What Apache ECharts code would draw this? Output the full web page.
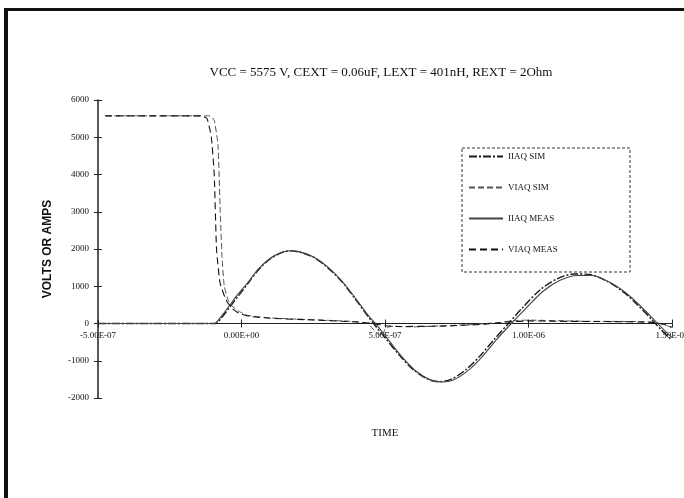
<!DOCTYPE html>
<html>
<head>
<meta charset="utf-8">
<script src="https://cdn.jsdelivr.net/npm/echarts@6/dist/echarts.min.js"></script>
<style>html,body{margin:0;padding:0;background:#fff}#c{width:684px;height:498px}</style>
</head>
<body>
<div id="c"></div>
<script>
// time in microseconds
const xTickLabels = ["-5.00E-07", "0.00E+00", "5.00E-07", "1.00E-06", "1.50E-06"];
const yTicks = [-2000, -1000, 0, 1000, 2000, 3000, 4000, 5000, 6000];

const iiaqSimT = [-0.5,-0.09,-0.07,-0.04,-0.01,0.02,0.06,0.1,0.14,0.17,0.2,0.25,0.3,0.35,0.4,0.44,0.46,0.5,0.55,0.6,0.65,0.69,0.73,0.78,0.83,0.88,0.93,0.98,1.04,1.1,1.16,1.21,1.27,1.33,1.38,1.43,1.46,1.5];
const iiaqSimV = [0,0,150,450,750,1050,1450,1730,1900,1950,1920,1780,1500,1120,620,200,0,-380,-850,-1250,-1500,-1560,-1500,-1250,-880,-430,0,430,900,1200,1330,1320,1150,850,500,100,-150,-450];

const viaqSimT = [-0.475,-0.11,-0.095,-0.082,-0.074,-0.068,-0.06,-0.045,-0.03,-0.01,0.02,0.1,0.2,0.3,0.4,0.44,0.47,0.49,0.5,0.52,0.6,0.7,0.8,0.9,0.95,1.0,1.2,1.4,1.45,1.49,1.5];
const viaqSimV = [5575,5575,5450,4800,3000,1800,1000,600,450,330,220,150,115,85,50,0,-250,-350,-150,-80,-90,-60,-30,30,80,90,60,50,20,-80,-120];

const iiaqMeasT = [-0.5,-0.095,-0.075,-0.045,-0.015,0.02,0.06,0.1,0.14,0.17,0.2,0.25,0.3,0.35,0.4,0.44,0.47,0.51,0.56,0.61,0.66,0.7,0.74,0.79,0.84,0.89,0.94,0.99,1.05,1.11,1.17,1.22,1.28,1.34,1.39,1.44,1.47,1.5];
const iiaqMeasV = [0,0,150,450,760,1080,1470,1750,1910,1955,1930,1790,1520,1140,650,230,-30,-420,-900,-1290,-1520,-1570,-1510,-1260,-880,-420,0,400,860,1160,1290,1290,1120,820,470,80,-160,-380];

const viaqMeasT = [-0.475,-0.14,-0.12,-0.105,-0.095,-0.087,-0.075,-0.055,-0.035,-0.01,0.03,0.1,0.2,0.3,0.4,0.46,0.5,0.55,0.7,0.85,0.93,1.0,1.1,1.3,1.43,1.47,1.5];
const viaqMeasV = [5575,5575,5500,5000,4000,2000,1100,650,420,280,190,140,110,80,40,0,-60,-80,-70,-20,40,70,60,50,30,-20,-100];

const seriesNames = ["IIAQ SIM", "VIAQ SIM", "IIAQ MEAS", "VIAQ MEAS"];
const titleText = "VCC = 5575 V, CEXT = 0.06uF, LEXT = 401nH, REXT = 2Ohm";

function zip(t, v) { return t.map((x, i) => [x, v[i]]); }

const serif = "'Liberation Serif', 'Times New Roman', serif";
const chart = echarts.init(document.getElementById('c'), null, {renderer: 'canvas'});

const gridTop = 100, gridBottom = 100, chartH = 498;
const yMin = -2000, yMax = 6000;
// place the x axis at the y = 0 level of the grid
const zeroOffset = -(chartH - gridTop - gridBottom) * (0 - yMin) / (yMax - yMin);

const xBase = {
  type: 'value', min: -0.5, max: 1.5, interval: 0.5,
  position: 'bottom', offset: zeroOffset,
  splitLine: {show: false}
};
const yBase = {
  type: 'value', min: yMin, max: yMax, interval: 1000,
  splitLine: {show: false}
};

const styles = [
  {color: '#1a1a1a', width: 1.4, type: [8, 2, 2, 2]},
  {color: '#555', width: 1, type: [6, 3]},
  {color: '#444', width: 1.1, type: 'solid'},
  {color: '#111', width: 1.1, type: [7, 4]}
];

chart.setOption({
  animation: false,
  backgroundColor: '#fff',
  title: {
    text: titleText, left: 376, textAlign: 'center', top: 61,
    textStyle: {fontFamily: serif, fontSize: 13, fontWeight: 'normal', color: '#111'}
  },
  grid: {left: 98, right: 12, top: gridTop, bottom: gridBottom, containLabel: false, outerBoundsMode: 'none'},
  legend: {
    orient: 'vertical', left: 468, top: 152, itemWidth: 34, itemHeight: 10, itemGap: 22,
    data: seriesNames,
    itemStyle: {opacity: 0},
    textStyle: {fontFamily: serif, fontSize: 9, color: '#111'},
    padding: 0
  },
  xAxis: [
    Object.assign({}, xBase, {
      name: 'TIME', nameLocation: 'middle', nameGap: 104,
      nameTextStyle: {fontFamily: serif, fontSize: 11, color: '#111'},
      axisLine: {show: true, onZero: false, lineStyle: {color: '#222', width: 1}},
      axisTick: {inside: false, length: 4, lineStyle: {color: '#222'}},
      axisLabel: {
        fontFamily: serif, fontSize: 9, color: '#111', margin: 8,
        formatter: (v) => { const i = Math.round((v + 0.5) / 0.5); return xTickLabels[i] || ''; }
      }
    }),
    Object.assign({}, xBase, {
      axisLine: {show: false, onZero: false},
      axisTick: {inside: true, length: 4, lineStyle: {color: '#222'}},
      axisLabel: {show: false}
    })
  ],
  yAxis: [
    Object.assign({}, yBase, {
      name: 'VOLTS OR AMPS', nameLocation: 'middle', nameGap: 44, nameRotate: 90,
      nameTextStyle: {fontFamily: "'Liberation Sans', Arial, sans-serif", fontSize: 12, fontWeight: 'bold', color: '#111'},
      axisLine: {show: true, onZero: false, lineStyle: {color: '#222', width: 1.5}},
      axisTick: {show: true, inside: false, length: 4, lineStyle: {color: '#222'}},
      axisLabel: {
        fontFamily: serif, fontSize: 9, color: '#111', margin: 9,
        formatter: (v) => { const i = yTicks.indexOf(v); return i >= 0 ? String(yTicks[i]) : ''; }
      }
    }),
    Object.assign({}, yBase, {
      position: 'left',
      axisLine: {show: false, onZero: false},
      axisTick: {show: true, inside: true, length: 4, lineStyle: {color: '#222'}},
      axisLabel: {show: false}
    })
  ],
  series: [
    {name: seriesNames[0], type: 'line', data: zip(iiaqSimT, iiaqSimV), symbol: 'none', smooth: 0.3,
     itemStyle: {color: styles[0].color}, lineStyle: styles[0]},
    {name: seriesNames[1], type: 'line', data: zip(viaqSimT, viaqSimV), symbol: 'none', smooth: 0.15,
     itemStyle: {color: styles[1].color}, lineStyle: styles[1]},
    {name: seriesNames[2], type: 'line', data: zip(iiaqMeasT, iiaqMeasV), symbol: 'none', smooth: 0.3,
     itemStyle: {color: styles[2].color}, lineStyle: styles[2]},
    {name: seriesNames[3], type: 'line', data: zip(viaqMeasT, viaqMeasV), symbol: 'none', smooth: 0.15,
     itemStyle: {color: styles[3].color}, lineStyle: styles[3]}
  ],
  graphic: [
    {type: 'rect', shape: {x: 4, y: 8, width: 4, height: 490}, style: {fill: '#111'}, silent: true},
    {type: 'rect', shape: {x: 4, y: 8, width: 680, height: 3}, style: {fill: '#111'}, silent: true},
    {type: 'rect', shape: {x: 462, y: 148, width: 168, height: 124},
     style: {fill: 'none', stroke: '#333', lineWidth: 1, lineDash: [3, 2]}, silent: true, z: 100}
  ]
});
</script>
</body>
</html>
